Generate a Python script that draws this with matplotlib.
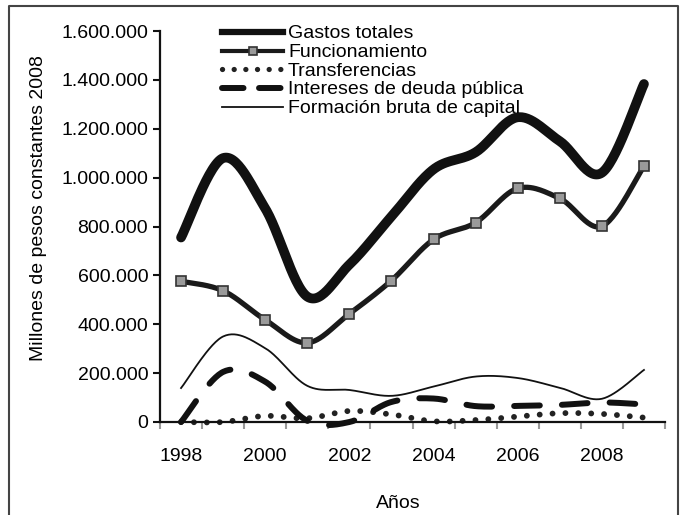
import numpy as np
import matplotlib.pyplot as plt
from matplotlib.lines import Line2D

plt.rcParams['font.family'] = ['Liberation Sans', 'DejaVu Sans']

years = [1998, 1999, 2000, 2001, 2002, 2003, 2004, 2005, 2006, 2007, 2008, 2009]
year_labels = [1998, 2000, 2002, 2004, 2006, 2008]
yticks = [0, 200000, 400000, 600000, 800000, 1000000, 1200000, 1400000, 1600000]

gastos = [755000, 1080000, 874000, 513000, 644000, 841000, 1034000, 1104000, 1247000, 1149000, 1020000, 1383000]
funcionamiento = [576000, 537000, 418000, 324000, 443000, 579000, 747000, 816000, 956000, 915000, 801000, 1047000]
transferencias = [0, 0, 25000, 15000, 45000, 31000, 3000, 8000, 22000, 36000, 33000, 18000]
intereses = [0, 205000, 165000, 5000, 0, 82000, 96000, 65000, 66000, 70000, 80000, 72000]
formacion = [139000, 350000, 302000, 148000, 131000, 107000, 145000, 186000, 180000, 140000, 95000, 213000]


def smooth(x, y, n=30):
    # excel-like smoothed line (bezier through the points)
    pts = np.column_stack([x, y]).astype(float)
    P = np.vstack([pts[0], pts, pts[-1]])
    out = []
    t = np.linspace(0, 1, n, endpoint=False)[:, None]
    for i in range(1, len(P) - 2):
        p0, p1, p2, p3 = P[i - 1], P[i], P[i + 1], P[i + 2]
        c1 = p1 + (p2 - p0) / 6
        c2 = p2 - (p3 - p1) / 6
        out.append((1 - t)**3 * p1 + 3 * (1 - t)**2 * t * c1 + 3 * (1 - t) * t**2 * c2 + t**3 * p2)
    out.append(pts[-1:])
    s = np.vstack(out)
    return s[:, 0], s[:, 1]


fs = 14
fig = plt.figure(figsize=(6.83, 5.15), dpi=100)
ax = fig.add_axes([160 / 683, 93 / 515, 505 / 683, 391 / 515])

xs, ys = smooth(years, formacion)
ax.plot(xs, ys, color='#111111', lw=1.3, clip_on=False)
xs, ys = smooth(years, transferencias)
ax.plot(xs, ys, color='#222222', lw=4.2, linestyle=(0, (0.01, 2.2)),
        dash_capstyle='round', clip_on=False)
xs, ys = smooth(years, intereses)
ax.plot(xs, ys, color='#111111', lw=4.3, linestyle=(0, (4.3, 3.7)),
        dash_capstyle='round', clip_on=False)
xs, ys = smooth(years, funcionamiento)
ax.plot(xs, ys, color='#1a1a1a', lw=3.8, solid_capstyle='round')
ax.plot(years, funcionamiento, 's', ms=6.5, mfc='#9a9a9a', mec='#333333', mew=1.2)
xs, ys = smooth(years, gastos)
ax.plot(xs, ys, color='#111111', lw=7, solid_capstyle='round')

ax.set_xlim(1997.5, 2009.5)
ax.set_ylim(0, 1600000)
ax.set_yticks(yticks)
ax.set_yticklabels(['{:,.0f}'.format(v).replace(',', '.') for v in yticks])
ax.set_xticks(year_labels)
ax.set_xticklabels([str(y) for y in year_labels])
ax.set_xticks(np.arange(1997.5, 2010, 1.0), minor=True)
ax.tick_params(axis='y', direction='out', length=5, width=1.5, pad=3.5, labelsize=fs, color='#111111')
ax.tick_params(axis='x', which='major', length=0, pad=18.5, labelsize=fs)
ax.tick_params(axis='x', which='minor', direction='out', length=5, width=1.5, color='#999999')
for s in ['top', 'right']:
    ax.spines[s].set_visible(False)
for s in ['left', 'bottom']:
    ax.spines[s].set_linewidth(1.6)
    ax.spines[s].set_color('#111111')

fig.text(39 / 683, 1 - 208 / 515, 'Millones de pesos constantes 2008', rotation=90,
         ha='center', va='center', fontsize=fs)
fig.text(398 / 683, 1 - 503 / 515, 'Años', ha='center', va='center', fontsize=fs)

handles = [
    Line2D([], [], color='#111111', lw=4.5),
    Line2D([], [], color='#1a1a1a', lw=3, marker='s', ms=6, mfc='#9a9a9a', mec='#333333', mew=1.2),
    Line2D([], [], color='#222222', lw=3.8, linestyle=(0, (0.01, 2.2)), dash_capstyle='round'),
    Line2D([], [], color='#111111', lw=4.3, linestyle=(0, (3.6, 2.6)), dash_capstyle='round'),
    Line2D([], [], color='#111111', lw=1.3),
]
labels = ['Gastos totales', 'Funcionamiento', 'Transferencias',
          'Intereses de deuda pública', 'Formación bruta de capital']
fig.legend(handles, labels, loc='upper left', bbox_to_anchor=(222 / 683, 1 - 25 / 515),
           frameon=False, fontsize=fs, numpoints=1, handlelength=3.15, handletextpad=0.25,
           labelspacing=0.09, handleheight=0.5, borderpad=0, borderaxespad=0)

# outer frame (cut at the bottom)
x0, x1, y1 = 9 / 683, 678 / 683, 1 - 6 / 515
fig.add_artist(Line2D([x0, x0, x1, x1], [-0.1, y1, y1, -0.1], transform=fig.transFigure,
                      color='#444444', lw=1.5))

fig.savefig('out.png', dpi=100)
